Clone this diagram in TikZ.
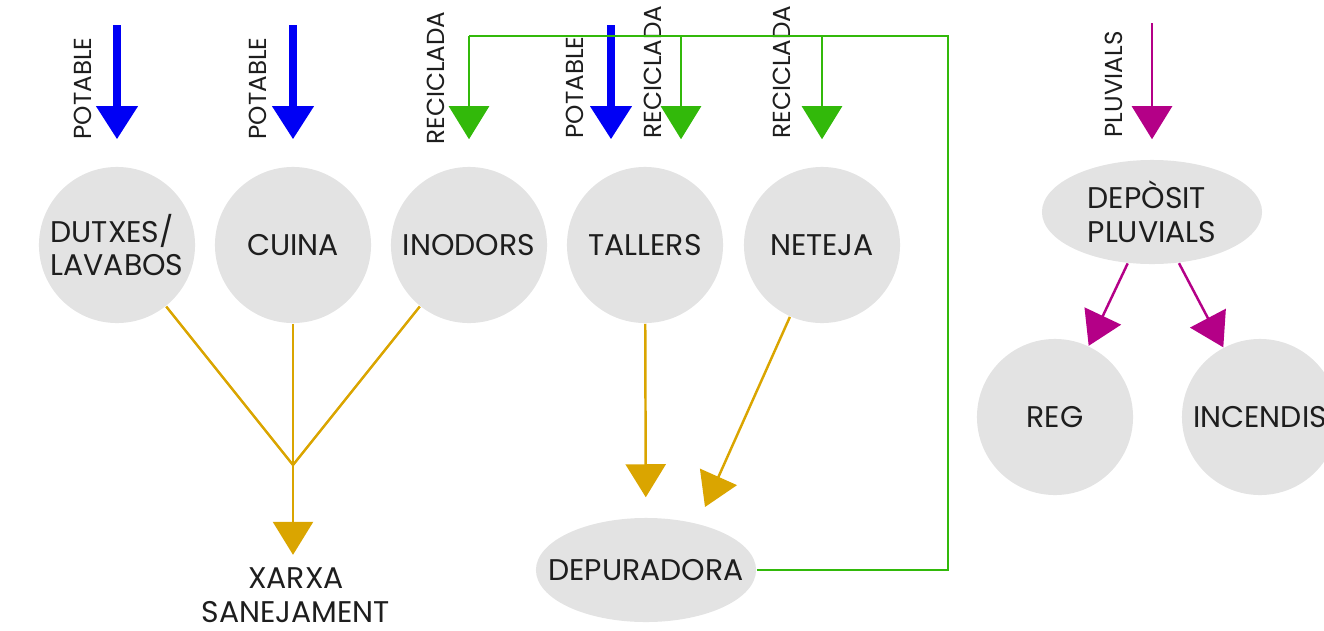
\documentclass[tikz,border=0pt]{standalone}
\usepackage{fontspec}
\setmainfont{Poppins}
\usepackage{xcolor}
\usepackage{tikz}
\usetikzlibrary{positioning}
\usetikzlibrary{arrows.meta}
\usetikzlibrary{shapes.geometric}
\usetikzlibrary{calc}

\definecolor{potblue}{RGB}{0,0,245}
\definecolor{recgreen}{RGB}{50,185,10}
\definecolor{sanyellow}{RGB}{218,165,0}
\definecolor{plumag}{RGB}{180,0,135}
\definecolor{usegray}{RGB}{227,227,227}
\definecolor{textdark}{RGB}{30,30,30}

\begin{document}
\begin{tikzpicture}[
x=0.01cm, y=-0.01cm,
consum/.style={
  circle,
  fill=usegray,
  minimum size=1.56cm,
  inner sep=1pt,
  text=textdark,
  align=left,
  font=\fontsize{8.5}{9.6}\selectfont
},
tanc/.style={
  ellipse,
  fill=usegray,
  minimum width=2.2cm,
  minimum height=1.04cm,
  inner xsep=-2.1mm,
  inner ysep=0pt,
  text=textdark,
  align=left,
  font=\fontsize{8.5}{9.6}\selectfont
},
flow/.style={
  rotate=90,
  anchor=south west,
  inner sep=0pt,
  text=textdark,
  font=\fontsize{7}{8}\selectfont
},
  potarr/.style={-{Triangle[length=3.3mm,width=4mm]}, line width=2pt, potblue},
  recline/.style={line width=0.7pt, recgreen},
  recarr/.style={recline, -{Triangle[length=3.3mm,width=4mm]}},
  sanline/.style={line width=0.7pt, sanyellow},
  sanarr/.style={sanline, -{Triangle[length=3.3mm,width=4mm]}},
  pluarr/.style={-{Triangle[length=3.3mm,width=4mm]}, line width=0.7pt, plumag}
]
\useasboundingbox (0,0) rectangle (1324,630);

% ---- CONSUMS ----
\node[consum] (dutxes)   at (117, 245) {DUTXES/\\LAVABOS};
\node[consum] (cuina)    at (293, 245) {CUINA};
\node[consum] (inodors)  at (469, 245) {INODORS};
\node[consum] (tallers)  at (645, 245) {TALLERS};
\node[consum] (neteja)   at (822, 245) {NETEJA};

\node[tanc] (depuradora) at (646, 570) {DEPURADORA};
\node[text=textdark, align=center, font=\fontsize{8.5}{9.8}\selectfont]
  (xarxa) at (296, 595) {XARXA\\SANEJAMENT};

% ---- ENTRADES ----
\coordinate (pot1) at (117, 25);
\coordinate (pot2) at (293, 25);
\coordinate (pot3) at (611, 25);
\coordinate (rec1) at (469, 36);
\coordinate (rec2) at (681, 36);
\coordinate (rec3) at (822, 36);
\coordinate (gtop) at (948, 36);

\node[flow] (lpot1) at (92, 140)  {POTABLE};
\node[flow] (lpot2) at (267, 140) {POTABLE};
\node[flow] (lpot3) at (584, 139) {POTABLE};
\node[flow] (lrec1) at (445, 145) {RECICLADA};
\node[flow] (lrec2) at (662, 139) {RECICLADA};
\node[flow] (lrec3) at (791, 139) {RECICLADA};

\draw[potarr, shorten >=0.27cm] (pot1) -- (dutxes);
\draw[potarr, shorten >=0.27cm] (pot2) -- (cuina);
\draw[potarr, shorten >=0.27cm] (pot3) -- (pot3 |- tallers.north);

\draw[recline] (depuradora.east) -| (gtop) -- (rec1);
\draw[recarr, shorten >=0.27cm] (rec1) -- (inodors);
\draw[recarr, shorten >=0.27cm] (rec2) -- (rec2 |- tallers.north);
\draw[recarr, shorten >=0.27cm] (rec3) -- (neteja);

% ---- SORTIDES ----
\coordinate (junc) at (293, 465);
\coordinate (nettip) at (705, 507);

\draw[sanline] (dutxes) -- (junc);
\draw[sanline] (cuina) -- (junc);
\draw[sanline] (inodors) -- (junc);
\draw[sanarr] (junc) -- (junc |- xarxa.north);

\draw[sanarr, shorten >=0.2cm] (tallers) -- (depuradora);
\draw[sanarr] (neteja) -- (nettip);

% ---- PLUVIALS ----
\node[tanc] (diposit) at (1152, 212) {DEPÒSIT\\PLUVIALS};
\node[consum] (reg)      at (1055, 417) {REG};
\node[consum] (incendis) at (1260, 417) {INCENDIS};

\coordinate (plu) at (1152, 23);
\node[flow] (lplu) at (1123, 138) {PLUVIALS};

\draw[pluarr, shorten >=0.2cm] (plu) -- (diposit);
\draw[pluarr] (diposit) -- (reg);
\draw[pluarr] (diposit) -- (incendis);

\end{tikzpicture}
\end{document}
